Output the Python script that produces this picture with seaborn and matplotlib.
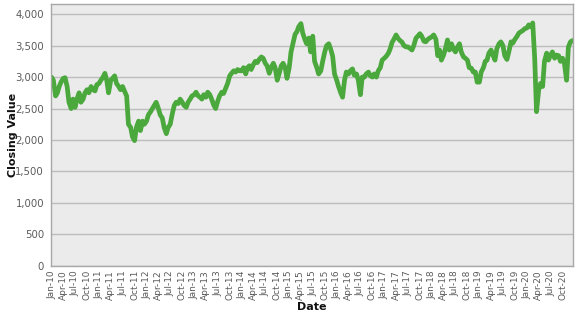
import numpy as np
import pandas as pd
import matplotlib
matplotlib.use("Agg")
import matplotlib.pyplot as plt
import matplotlib.dates as mdates
from matplotlib.ticker import FuncFormatter, MultipleLocator
import seaborn as sns

# Semi-monthly closing values (1st and 15th of each month)
v2010 = [3000, 2950, 2700, 2750, 2850, 2920, 2980, 2990, 2850, 2600, 2500, 2650,
         2520, 2650, 2750, 2600, 2650, 2750, 2800, 2750, 2850, 2800, 2780, 2880]
v2011 = [2900, 2950, 3000, 3060, 2950, 2750, 2950, 2980, 3020, 2900, 2850, 2800,
         2850, 2780, 2700, 2250, 2200, 2050, 1990, 2200, 2300, 2150, 2300, 2250]
v2012 = [2300, 2400, 2450, 2500, 2550, 2600, 2500, 2400, 2350, 2200, 2100, 2200,
         2250, 2400, 2550, 2600, 2580, 2650, 2600, 2550, 2520, 2600, 2650, 2700]
v2013 = [2720, 2760, 2700, 2680, 2650, 2720, 2680, 2760, 2720, 2650, 2550, 2500,
         2620, 2700, 2760, 2740, 2830, 2900, 3020, 3060, 3100, 3080, 3120, 3100]
v2014 = [3100, 3150, 3050, 3150, 3180, 3120, 3200, 3250, 3230, 3280, 3320, 3300,
         3220, 3180, 3060, 3150, 3220, 3150, 2950, 3050, 3180, 3220, 3150, 2980]
v2015 = [3150, 3400, 3550, 3680, 3720, 3800, 3850, 3700, 3600, 3530, 3620, 3400,
         3650, 3250, 3150, 3050, 3100, 3250, 3400, 3500, 3530, 3450, 3330, 3050]
v2016 = [2950, 2850, 2750, 2680, 2950, 3080, 3050, 3100, 3130, 3030, 3050, 2950,
         2720, 3000, 3000, 3050, 3080, 3020, 3000, 3050, 3000, 3100, 3150, 3270]
v2017 = [3300, 3330, 3380, 3450, 3550, 3600, 3670, 3620, 3580, 3560, 3500, 3480,
         3480, 3460, 3430, 3500, 3620, 3650, 3690, 3650, 3570, 3560, 3600, 3620]
v2018 = [3640, 3670, 3600, 3340, 3430, 3270, 3350, 3450, 3590, 3430, 3530, 3450,
         3400, 3470, 3530, 3400, 3320, 3300, 3270, 3150, 3140, 3080, 3080, 2920]
v2019 = [2920, 3080, 3150, 3250, 3270, 3380, 3430, 3350, 3270, 3450, 3530, 3560,
         3500, 3340, 3280, 3400, 3560, 3540, 3600, 3640, 3700, 3720, 3740, 3770]
v2020 = [3780, 3830, 3800, 3860, 3300, 2450, 2800, 2900, 2850, 3250, 3380, 3270,
         3350, 3400, 3300, 3350, 3340, 3250, 3300, 3220, 2950, 3480, 3560, 3580]

years = list(range(2010, 2021))
values = v2010 + v2011 + v2012 + v2013 + v2014 + v2015 + v2016 + v2017 + v2018 + v2019 + v2020
dates = []
for y in years:
    for m in range(1, 13):
        dates.append(pd.Timestamp(y, m, 1))
        dates.append(pd.Timestamp(y, m, 15))

df = pd.DataFrame({"Date": dates, "Closing Value": values})

sns.set_style("whitegrid", {
    "axes.facecolor": "#ebebeb",
    "axes.edgecolor": "#a8a8a8",
    "grid.color": "#bdbdbd",
})
plt.rcParams['font.family'] = ['DejaVu Sans']

fig = plt.figure(figsize=(5.77, 3.15), dpi=100)
ax = fig.add_axes([0.0884, 0.156, 0.9046, 0.831])

sns.lineplot(data=df, x="Date", y="Closing Value", ax=ax,
             color="#4aa83c", linewidth=3.4)

ax.set_xlim(pd.Timestamp(2009, 12, 28), pd.Timestamp(2020, 12, 20))
ax.set_ylim(0, 4160)
ax.yaxis.set_major_locator(MultipleLocator(500))
ax.yaxis.set_major_formatter(FuncFormatter(lambda v, p: f"{int(v):,}"))
ax.xaxis.set_major_locator(mdates.MonthLocator(bymonth=[1, 4, 7, 10]))
ax.xaxis.set_major_formatter(mdates.DateFormatter("%b-%y"))
ax.grid(axis="x", visible=False)
ax.grid(axis="y", color="#bdbdbd", linewidth=1.0)

ax.tick_params(axis="x", labelrotation=90, labelsize=6.5, colors="#5a5a5a",
               length=2.5, width=0.8, pad=0.5)
ax.tick_params(axis="y", labelsize=7.3, colors="#5a5a5a", length=3, width=0.8, pad=2)
ax.tick_params(axis="both", color="#a8a8a8")

ax.set_xlabel("Date", fontsize=8, fontweight="bold", color="#111111")
ax.set_ylabel("Closing Value", fontsize=8, fontweight="bold", color="#111111")
ax.xaxis.label.set_va("center")
ax.yaxis.label.set_va("center")
ax.yaxis.label.set_ha("center")
# place axis titles: ylabel centred near x=13px, xlabel centred near y=307px
ax.yaxis.set_label_coords((13 - 51) / 522, 0.5)
ax.xaxis.set_label_coords(0.5, (266 - 307.5) / 262)

for s in ax.spines.values():
    s.set_visible(True)
    s.set_color("#a8a8a8")
    s.set_linewidth(1.0)

fig.savefig("out.png", dpi=100)
